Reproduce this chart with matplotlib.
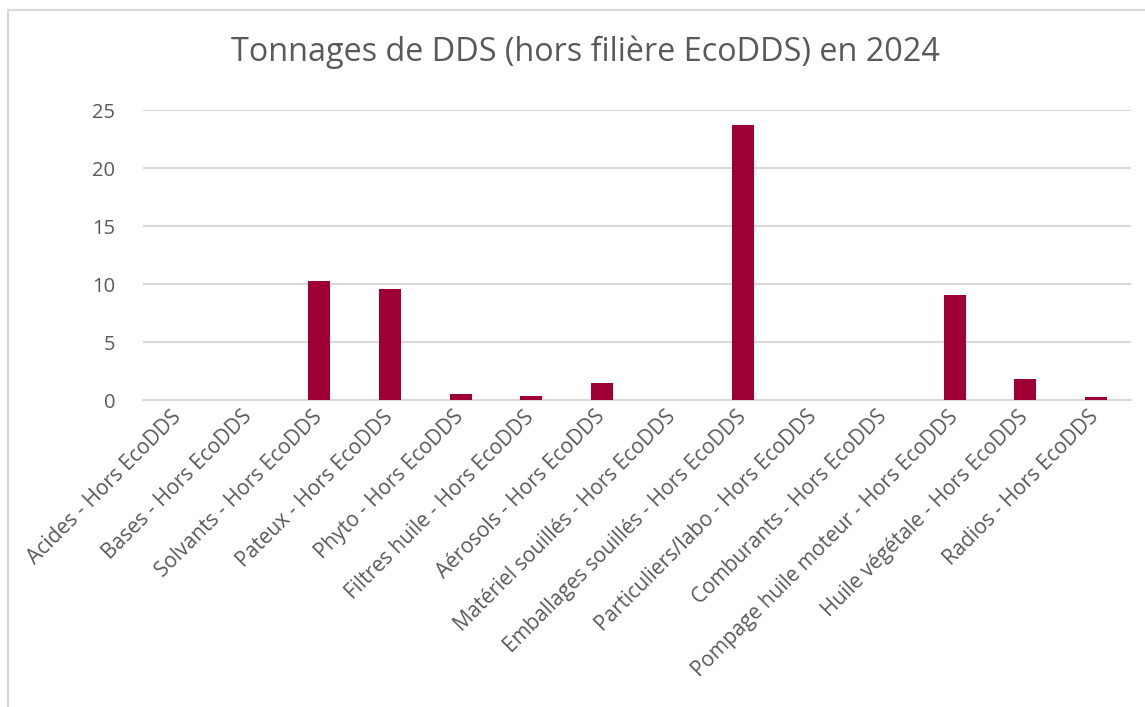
import matplotlib
matplotlib.use('Agg')
import matplotlib.pyplot as plt
from matplotlib.lines import Line2D
import numpy as np

# données
categories = ['Acides - Hors EcoDDS', 'Bases - Hors EcoDDS', 'Solvants - Hors EcoDDS',
              'Pateux - Hors EcoDDS', 'Phyto - Hors EcoDDS', 'Filtres huile - Hors EcoDDS',
              'Aérosols - Hors EcoDDS', 'Matériel souillés - Hors EcoDDS',
              'Emballages souillés - Hors EcoDDS', 'Particuliers/labo - Hors EcoDDS',
              'Comburants - Hors EcoDDS', 'Pompage huile moteur - Hors EcoDDS',
              'Huile végétale - Hors EcoDDS', 'Radios - Hors EcoDDS']
tonnages = [0, 0, 10.25, 9.57, 0.5, 0.35, 1.5, 0, 23.7, 0, 0, 9.02, 1.8, 0.25]
yticks = [0, 5, 10, 15, 20, 25]

bar_color = '#9E0036'
grid_color = '#D9D9D9'
text_color = '#595959'

plt.rcParams['font.family'] = ['Open Sans', 'DejaVu Sans']

fig = plt.figure(figsize=(11.45, 7.07), dpi=100)
ax = fig.add_axes([143/1145, 1 - 400/707, (1131 - 143)/1145, 290/707])

x = np.arange(len(categories))
ax.bar(x, tonnages, width=0.31, color=bar_color, zorder=3)

ax.set_xlim(-0.5, len(categories) - 0.5)
ax.set_ylim(0, 25)
ax.set_yticks(yticks)
ax.set_yticklabels([str(v) for v in yticks], fontsize=14.5, color=text_color)
ax.yaxis.grid(True, color=grid_color, lw=1.5, zorder=0)
ax.tick_params(axis='both', length=0)
ax.tick_params(axis='y', pad=20)
for s in ['top', 'right', 'left']:
    ax.spines[s].set_visible(False)
ax.spines['bottom'].set_color(grid_color)
ax.spines['bottom'].set_linewidth(1.5)

ax.set_xticks(x)
ax.set_xticklabels(categories, rotation=45, ha='right', va='center',
                   rotation_mode='anchor', fontsize=15, color=text_color)
ax.tick_params(axis='x', pad=10)

fig.text(0.511, 1 - 52/707, 'Tonnages de DDS (hors filière EcoDDS) en 2024',
         ha='center', va='center', fontsize=23.3, color=text_color)

# bordure de la zone de graphique
fig.add_artist(Line2D([8/1145, 1], [1 - 10/707, 1 - 10/707], color=grid_color, lw=1.5))
fig.add_artist(Line2D([8/1145, 8/1145], [0, 1 - 10/707], color=grid_color, lw=1.5))

fig.savefig('out.png', dpi=100, facecolor='white')
